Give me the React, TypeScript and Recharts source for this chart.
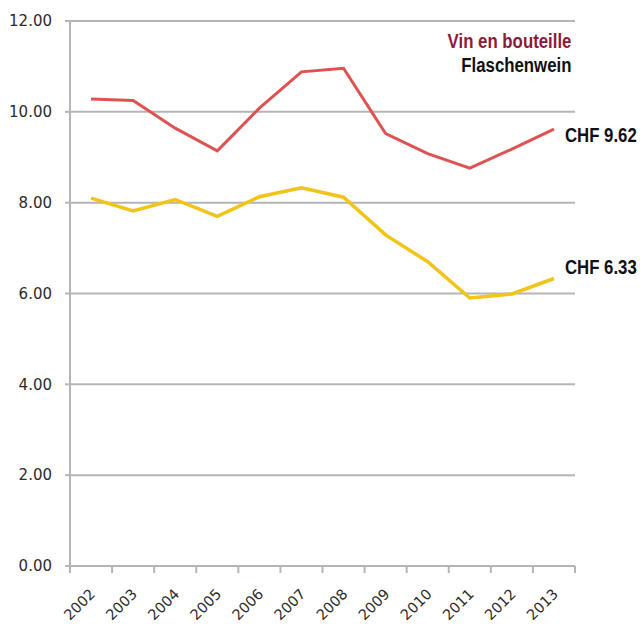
import { CartesianGrid, LabelList, Line, LineChart, XAxis, YAxis } from "recharts";

const years = ["2002", "2003", "2004", "2005", "2006", "2007", "2008", "2009", "2010", "2011", "2012", "2013"];
const bottled = [10.28, 10.25, 9.64, 9.14, 10.08, 10.88, 10.96, 9.52, 9.08, 8.76, 9.18, 9.62];
const yellowSeries = [8.1, 7.82, 8.07, 7.7, 8.13, 8.33, 8.12, 7.29, 6.7, 5.9, 5.99, 6.33];
const yTicks = [0, 2, 4, 6, 8, 10, 12];

const data = years.map((year, i) => ({ year, bottled: bottled[i], other: yellowSeries[i] }));

const W = 640;
const H = 626;
const MARGIN = { top: 21, right: 65, left: 0, bottom: 0 };
const Y_W = 70;
const STEP = (W - MARGIN.left - MARGIN.right - Y_W) / years.length;
const GRID = "#b5b5b5";
const TICK_FONT = "'DejaVu Sans', sans-serif";
// no condensed face installed, so Liberation Sans Bold gets squeezed horizontally
const LABEL_FONT = "'Liberation Sans', Arial, sans-serif";
const SQUEEZE = 0.84;

function YearTick(props: any) {
  const { x, y, payload, index } = props;
  const tx = x + 5;
  const ty = y + 29;
  return (
    <g>
      <line x1={x - STEP / 2} x2={x - STEP / 2} y1={y} y2={y + 7} stroke={GRID} strokeWidth={2} />
      {index === years.length - 1 && (
        <line x1={x + STEP / 2} x2={x + STEP / 2} y1={y} y2={y + 7} stroke={GRID} strokeWidth={2} />
      )}
      <text
        x={tx}
        y={ty}
        textAnchor="end"
        transform={`rotate(-45 ${tx} ${ty})`}
        fontFamily={TICK_FONT}
        fontSize={14.5}
        fill="#2b2b2b"
      >
        {payload.value}
      </text>
    </g>
  );
}

// only the last point gets a "CHF x.xx" label
function endLabel(dy: number) {
  return (props: any) => {
    const { x, y, value, index } = props;
    if (index !== years.length - 1) return null;
    const lx = x + 11;
    const ly = y + dy;
    return (
      <text
        x={0}
        y={0}
        transform={`translate(${lx} ${ly}) scale(${SQUEEZE} 1)`}
        fontFamily={LABEL_FONT}
        fontWeight="bold"
        fontSize={20}
        fill="#111"
      >
        {`CHF ${Number(value).toFixed(2)}`}
      </text>
    );
  };
}

export default function App() {
  return (
    <div style={{ position: "absolute", left: 0, top: 0, width: W, height: H, background: "#fff" }}>
      <LineChart width={W} height={H} data={data} margin={MARGIN}>
        <CartesianGrid vertical={false} stroke={GRID} strokeWidth={2} />
        <XAxis
          dataKey="year"
          height={60}
          padding={{ left: STEP / 2, right: STEP / 2 }}
          axisLine={{ stroke: GRID, strokeWidth: 2 }}
          tickLine={false}
          tickSize={0}
          tickMargin={0}
          interval={0}
          tick={<YearTick />}
        />
        <YAxis
          width={Y_W}
          domain={[0, 12]}
          ticks={yTicks}
          tickFormatter={(v) => Number(v).toFixed(2)}
          axisLine={{ stroke: GRID, strokeWidth: 2 }}
          tickLine={{ stroke: GRID, strokeWidth: 2 }}
          tickSize={5}
          tickMargin={13}
          tick={{ fontFamily: TICK_FONT, fontSize: 15, fill: "#2b2b2b" }}
        />
        <Line
          dataKey="bottled"
          type="linear"
          stroke="#e05252"
          strokeWidth={3}
          dot={false}
          isAnimationActive={false}
        >
          <LabelList dataKey="bottled" content={endLabel(13)} />
        </Line>
        <Line
          dataKey="other"
          type="linear"
          stroke="#f2c418"
          strokeWidth={3.5}
          dot={false}
          isAnimationActive={false}
        >
          <LabelList dataKey="other" content={endLabel(-5)} />
        </Line>
      </LineChart>
      <div
        style={{
          position: "absolute",
          right: W - 571,
          top: 29,
          textAlign: "right",
          fontFamily: LABEL_FONT,
          fontWeight: "bold",
          fontSize: 20,
          lineHeight: "24px",
          transform: `scaleX(${SQUEEZE})`,
          transformOrigin: "right top",
          whiteSpace: "nowrap",
        }}
      >
        <div style={{ color: "#8a1c3b" }}>Vin en bouteille</div>
        <div style={{ color: "#111" }}>Flaschenwein</div>
      </div>
    </div>
  );
}
